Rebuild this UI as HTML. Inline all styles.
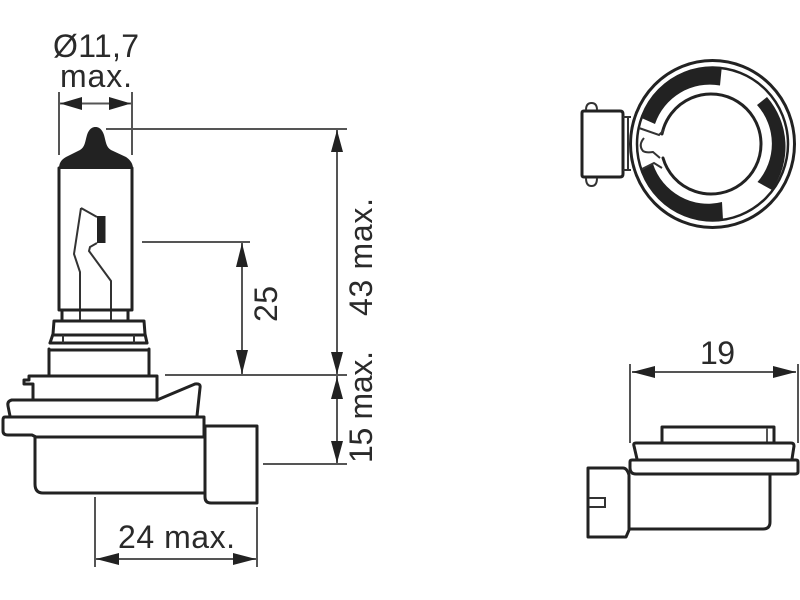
<!DOCTYPE html>
<html><head><meta charset="utf-8"><style>
html,body{margin:0;padding:0;background:#fff}
svg{display:block}
text{font-family:"Liberation Sans",sans-serif;font-size:32px;fill:#2a2a2a}
</style></head><body>
<svg width="800" height="600" viewBox="0 0 800 600" xmlns="http://www.w3.org/2000/svg">
<defs><style>
.o{fill:none;stroke:#222;stroke-width:3;stroke-linejoin:round;stroke-linecap:round}
.t{fill:none;stroke:#333;stroke-width:2}
.d{fill:none;stroke:#555;stroke-width:2}
.a{fill:#222;stroke:none}
</style></defs>

<!-- main bulb -->
<path class="a" d="M59,169 C59,163 61,160 66,157 L80,150 C85,147 85,142 87,135 C89,129 92,127 95.5,127 C99,127 102,129 104,135 C106,142 106,147 111,150 L126,157 C130,160 133,163 133,169 Z"/>
<path class="o" d="M59,168 V310 M132,168 V310"/>
<path class="t" d="M81,208 L74,254 L80,272 V320 M81,208 L97,217"/>
<path class="t" d="M97,243 L90,247 L89,251 L111,281 V320"/>
<rect class="a" x="97" y="216" width="8.5" height="27"/>
<path class="o" d="M60,310 H131 M62,310 V320 M128,310 V320"/>
<path class="o" d="M54,321 H144 L145,334 L147,343 M54,321 L53,334 L50,343"/>
<path class="o" d="M53,335 H145 M50,343 H147 M49,350 H149 M49,349 V376 M149,349 V376"/>
<path class="t" d="M63,335 V343 M134,335 V343"/>
<path class="o" d="M29,376 H157 V400 M29,376 V380 H24 V384 H33 V399"/>
<path class="o" d="M12,400 H157 L195,384 Q201,383 200,388 L197,416"/>
<path class="o" d="M12,400 Q7,401 8,406 L10,416"/>
<path class="o" d="M5,417 H204 V437 M5,417 Q3,417 3,420 V431 Q3,435 8,435 H32 L36,437 H204"/>
<path class="o" d="M35,437 V484 Q35,493 43,493 H204"/>
<path class="o" d="M205,426 H257 V503 H211 Q205,503 205,497 Z"/>

<!-- main dims -->
<path class="d" d="M59,92 V155 M132,92 V155 M60,103.5 H132"/>
<path class="a" d="M60,103.5 L82,97 V110 Z M131,103.5 L109,97 V110 Z"/>
<path class="d" d="M106,129 H347 M142,242 H250 M165,375 H347 M263,464 H347"/>
<path class="d" d="M337,130 V464 M242,243 V375"/>
<path class="a" d="M337,130 L331,152 H343 Z M337,374 L331,352 H343 Z M337,377 L331,399 H343 Z M337,463 L331,441 H343 Z"/>
<path class="a" d="M242,243 L236,267 H248 Z M242,374 L236,350 H248 Z"/>
<path class="d" d="M95,497 V567 M257,507 V567 M96,559 H256"/>
<path class="a" d="M96,559 L119,553 V565 Z M256,559 L233,553 V565 Z"/>

<text x="53" y="57" textLength="86">Ø11,7</text>
<text x="60" y="87" textLength="72">max.</text>
<text x="118" y="548" textLength="117">24 max.</text>
<text transform="translate(277,322) rotate(-90)" textLength="36">25</text>
<text transform="translate(372,316) rotate(-90)" textLength="118">43 max.</text>
<text transform="translate(372,463) rotate(-90)" textLength="112">15 max.</text>
<text x="700" y="364" textLength="35">19</text>

<!-- top view -->
<ellipse class="o" cx="712.5" cy="144" rx="82" ry="83.5"/>
<ellipse cx="712.5" cy="144" rx="75.5" ry="76.5" fill="none" stroke="#222" stroke-width="2.5"/>
<path class="a" d="M721.7,68 A76,76 0 0 0 641.5,118 L655,124 A58,58 0 0 1 720,85.5 Z"/>
<path class="a" d="M767,97 A76,76 0 0 1 772,190 L757.5,182 A58,58 0 0 0 757,105 Z"/>
<path class="a" d="M723,220 A76,76 0 0 1 642,170 L653,164 A58,58 0 0 0 722,202 Z"/>
<path class="o" d="M662,134 A50,50 0 1 1 663,158"/>
<path class="t" d="M639,128 L659,135 L664,130"/>
<path class="t" d="M642,169 L654,163 L662,168"/>
<path class="t" d="M644,138 Q638,145 643,151 Q646,153 653,152 L660,158"/>
<path class="o" d="M584,111 H620 Q623,111 623,114 V174 Q623,177 620,177 H584 Q582,177 582,175 V113 Q582,111 584,111 Z"/>
<path class="t" d="M586,110 Q586,103 591.5,103 Q597,103 597,110 M586,178 Q586,186 591.5,186 Q597,186 597,178"/>
<path class="t" d="M623,117 H631 M623,170 H631 M628,117 V170"/>

<!-- side view -->
<path class="d" d="M630,364 V443 M798,364 V443 M632,372 H796"/>
<path class="a" d="M632,372 L655,366 V378 Z M796,372 L773,366 V378 Z"/>
<path class="o" d="M662,443 V427 H774 V443"/>
<path class="d" d="M767,428 V442"/>
<path class="o" d="M636,443 H791 Q794,443 794,446 L792,459 M636,443 Q633,443 634,446 L637,459"/>
<path class="o" d="M632,460 H796 Q798,460 798,462 V472 Q798,474 795,474 H636 Q630,474 630,468 V462 Q630,460 632,460 Z"/>
<path class="o" d="M588,468 H623 Q627,468 629,475 V530 L626,537 H588 Z"/>
<path class="t" d="M589,498 H605 V507 H589"/>
<path class="o" d="M770,475 V522 Q770,529 763,529 H629"/>
</svg>
</body></html>
